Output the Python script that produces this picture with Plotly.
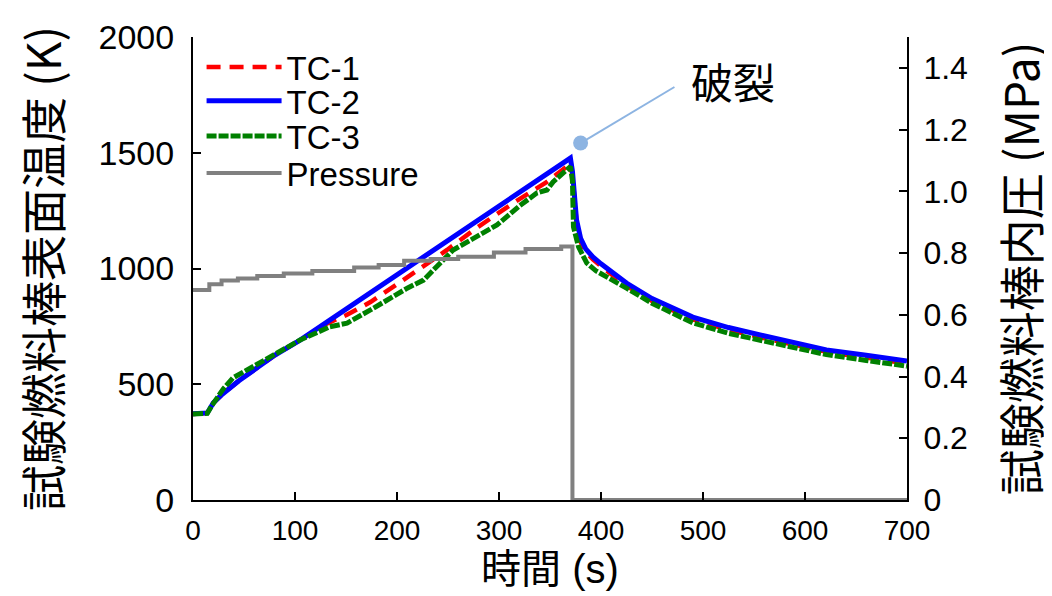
import plotly.graph_objects as go

# ---------------- data ----------------
tc2_t = [0, 14, 20, 29, 45, 62, 80, 105, 150, 200, 250, 300, 340, 370, 372, 374, 376, 380, 385, 392, 400, 425, 450, 490, 525, 556, 590, 621, 660, 700]
tc2_T = [372, 376, 420, 458, 515, 570, 625, 691, 825, 972, 1120, 1268, 1387, 1477, 1420, 1300, 1210, 1130, 1085, 1050, 1020, 937, 870, 790, 745, 713, 680, 648, 625, 600]

tc1_t = [0, 14, 20, 29, 45, 62, 80, 105, 130, 151, 174, 200, 226, 249, 278, 314, 347, 366, 370, 372, 374, 376, 380, 385, 392, 400, 425, 450, 490, 525, 556, 590, 621, 660, 700]
tc1_T = [372, 376, 420, 458, 515, 570, 625, 691, 760, 800, 855, 932, 1010, 1080, 1175, 1283, 1374, 1438, 1452, 1400, 1290, 1200, 1115, 1072, 1040, 1010, 925, 860, 780, 735, 703, 670, 640, 615, 590]

tc3_t = [0, 14, 18, 23.5, 30, 39, 50, 63, 80, 105, 134, 151, 174, 193, 210, 226, 240, 255, 275, 298, 320, 337, 347, 353, 363, 370, 372, 373, 378, 386, 395, 410, 425, 450, 490, 525, 556, 590, 621, 660, 700]
tc3_T = [372, 374, 405, 445, 482, 527, 555, 583, 630, 691, 748, 764, 821, 872, 915, 950, 1015, 1080, 1130, 1188, 1270, 1326, 1339, 1374, 1413, 1440, 1380, 1180, 1093, 1024, 990, 950, 915, 850, 765, 720, 690, 655, 628, 603, 578]

p_t = [0, 16, 28, 44, 63, 89, 117, 158, 182, 207, 233, 260, 295, 326, 361, 372, 700]
p_v = [0.680, 0.699, 0.711, 0.718, 0.726, 0.734, 0.742, 0.753, 0.761, 0.775, 0.781, 0.788, 0.802, 0.813, 0.821, 0.0, 0.0]

x_ticks = [0, 100, 200, 300, 400, 500, 600, 700]
y1_ticks = [0, 500, 1000, 1500, 2000]
y2_ticks = [0, 0.2, 0.4, 0.6, 0.8, 1.0, 1.2, 1.4]
y2_labels = ["0", "0.2", "0.4", "0.6", "0.8", "1.0", "1.2", "1.4"]

burst_label = "破裂"
burst_point = (380, 1542)
burst_text = (529, 1814)
burst_line_end = (472, 1784)

FONT = "Liberation Sans, Arial, Noto Sans CJK JP"
CJK = "Noto Sans CJK JP, Liberation Sans"

fig = go.Figure()
fig.add_trace(go.Scatter(x=tc1_t, y=tc1_T, name="TC-1", mode="lines", legend="legend",
                         line=dict(color="#FF0000", width=4.5, dash="14px,9px")))
fig.add_trace(go.Scatter(x=tc2_t, y=tc2_T, name="TC-2", mode="lines", legend="legend2",
                         line=dict(color="#0000FF", width=5)))
fig.add_trace(go.Scatter(x=tc3_t, y=tc3_T, name="TC-3", mode="lines", legend="legend3",
                         line=dict(color="#008000", width=5, dash="10px,2px")))
fig.add_trace(go.Scatter(x=p_t, y=p_v, name="Pressure", mode="lines", yaxis="y2", legend="legend4",
                         line=dict(color="#808080", width=4, shape="hv")))

# burst marker and leader line
fig.add_trace(go.Scatter(x=[burst_point[0], burst_line_end[0]], y=[burst_point[1], burst_line_end[1]],
                         mode="lines", showlegend=False, hoverinfo="skip",
                         line=dict(color="#8DB4E2", width=2), cliponaxis=False))
fig.add_trace(go.Scatter(x=[burst_point[0]], y=[burst_point[1]], mode="markers", showlegend=False,
                         marker=dict(color="#8DB4E2", size=15), cliponaxis=False))
fig.add_annotation(x=burst_text[0], y=burst_text[1], text=burst_label, showarrow=False,
                   font=dict(size=42, color="black", family=CJK))

legend_rows = [0.935, 0.862, 0.786, 0.706]
leg_common = dict(x=0.012, xanchor="left", yanchor="middle", bgcolor="rgba(0,0,0,0)",
                  font=dict(size=33, family=FONT), itemwidth=75)

# the page body adds an 8px offset on the left and top
fig.update_layout(
    width=1044, height=588,
    margin=dict(l=185, r=145, t=29, b=96, autoexpand=False),
    paper_bgcolor="white", plot_bgcolor="white",
    font=dict(family=FONT, size=26, color="black"),
    showlegend=True,
    legend=dict(y=legend_rows[0], **leg_common),
    legend2=dict(y=legend_rows[1], **leg_common),
    legend3=dict(y=legend_rows[2], **leg_common),
    legend4=dict(y=legend_rows[3], **leg_common),
    xaxis=dict(range=[0, 700], tickvals=x_ticks, showline=True, linecolor="black", linewidth=2,
               ticks="inside", ticklen=8, tickwidth=2, tickcolor="black", showgrid=False, zeroline=False,
               automargin=False, ticklabelstandoff=4,
               tickfont=dict(size=28, family="Liberation Sans Narrow, " + FONT),
               title=dict(text="時間 (s)", font=dict(size=40, family=FONT), standoff=10)),
    yaxis=dict(range=[0, 2000], tickvals=y1_ticks, showline=True, linecolor="black", linewidth=2,
               ticks="inside", ticklen=8, tickwidth=2, tickcolor="black", showgrid=False, zeroline=False,
               automargin=False, ticklabelstandoff=10,
               tickfont=dict(size=34),
               title=dict(text="試験燃料棒表面温度 (K)", font=dict(size=46, family=CJK), standoff=40)),
    yaxis2=dict(range=[0, 1.5], tickvals=y2_ticks, ticktext=y2_labels, overlaying="y", side="right",
                showline=True, linecolor="black", linewidth=2, automargin=False, ticklabelstandoff=8,
                ticks="inside", ticklen=8, tickwidth=2, tickcolor="black", showgrid=False, zeroline=False,
                tickfont=dict(size=32),
                title=dict(text="試験燃料棒内圧 (MPa)", font=dict(size=46, family=CJK), standoff=41)),
)

fig.write_html("out.html")
